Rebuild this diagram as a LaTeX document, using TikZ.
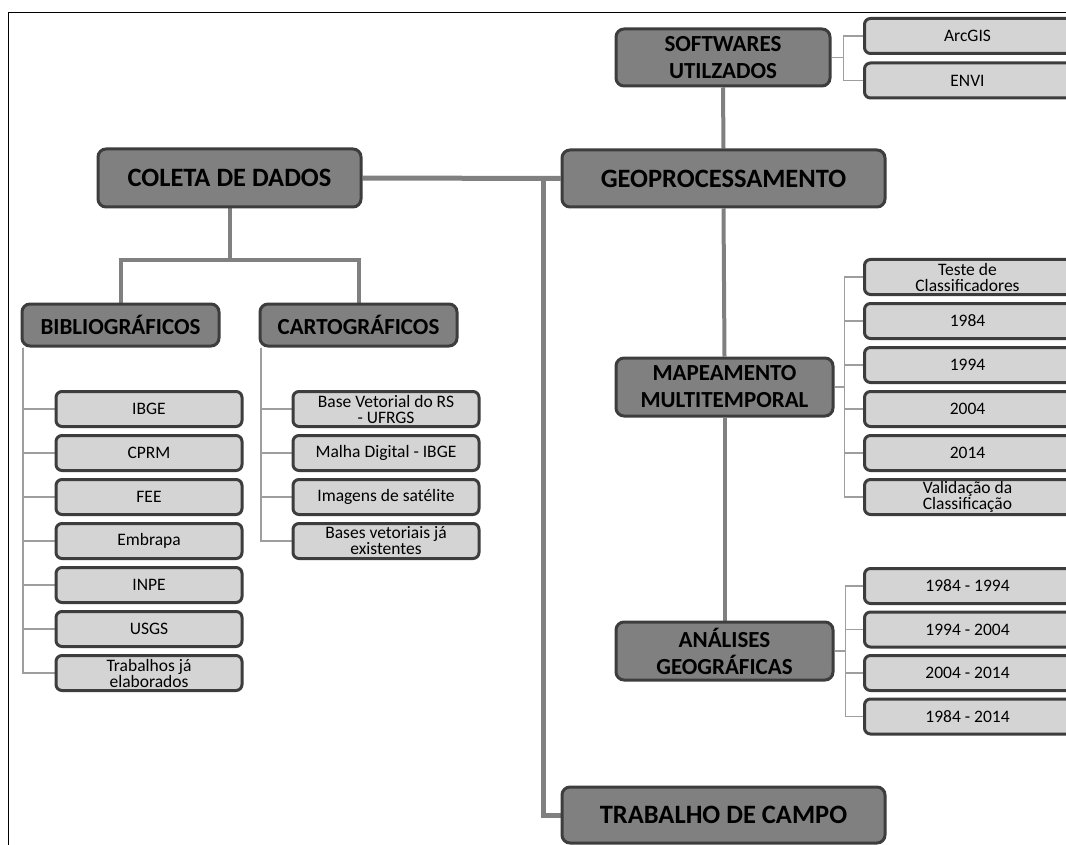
\documentclass[tikz,border=0pt]{standalone}
\usepackage{fontspec}
\setmainfont{Carlito}
\definecolor{darkfill}{gray}{0.50}
\definecolor{lightfill}{gray}{0.83}
\definecolor{boxedge}{gray}{0.24}
\definecolor{linegray}{gray}{0.50}
\definecolor{thingray}{gray}{0.62}
\pgfdeclarelayer{bg}
\pgfdeclarelayer{paper}
\pgfsetlayers{paper,bg,main}
\newcommand\rtxt[1]{\parbox{206pt}{\centering #1}\hspace*{14pt}}
\begin{document}
\begin{tikzpicture}[x=1pt,y=-1pt,
  dbox/.style={draw=boxedge, fill=darkfill, line width=3pt, rounded corners=8pt,
    align=center, inner sep=0pt, font=\fontsize{23}{27}\selectfont\bfseries},
  bigbox/.style={dbox, font=\fontsize{26.5}{28}\selectfont\bfseries},
  lbox/.style={draw=boxedge, fill=lightfill, line width=3pt, rounded corners=6pt,
    align=center, inner sep=0pt, minimum height=35pt, minimum width=186pt,
    font=\fontsize{17.5}{16}\selectfont},
  rbox/.style={draw=boxedge, fill=lightfill, line width=3pt, rounded corners=6pt,
    inner sep=0pt, minimum height=35pt, anchor=west,
    font=\fontsize{17.5}{16}\selectfont},
  mainline/.style={draw=linegray, line width=5pt},
  thickline/.style={draw=linegray, line width=4pt},
  thinline/.style={draw=thingray, line width=1.8pt}
]
\useasboundingbox (0,0) rectangle (1066,845);
\begin{pgfonlayer}{paper}
\fill[white] (0,0) rectangle (1066,845);
\end{pgfonlayer}
\draw[black, line width=1.2pt] (8.5,845) -- (8.5,12.5) -- (1066,12.5);

% main nodes
\node[bigbox, minimum width=263pt, minimum height=58pt] (coleta) at (229.5,178) {COLETA DE DADOS};
\node[bigbox, minimum width=323pt, minimum height=57pt] (geo) at (723.5,178.5) {GEOPROCESSAMENTO};
\node[dbox, minimum width=214pt, minimum height=57pt] (soft) at (723,57.5) {SOFTWARES\\UTILZADOS};
\node[dbox, minimum width=197pt, minimum height=42pt] (bib) at (120.5,325) {BIBLIOGRÁFICOS};
\node[dbox, minimum width=197pt, minimum height=42pt] (carto) at (358.5,325) {CARTOGRÁFICOS};
\node[dbox, minimum width=217pt, minimum height=58pt] (map) at (724.5,387) {MAPEAMENTO\\MULTITEMPORAL};
\node[dbox, minimum width=217pt, minimum height=58pt] (ana) at (724.5,651) {ANÁLISES\\GEOGRÁFICAS};
\node[bigbox, minimum width=323pt, minimum height=56pt] (campo) at (723.5,815) {TRABALHO DE CAMPO};

% software children
\node[rbox] (arc) at (863,36) {\rtxt{ArcGIS}};
\node[rbox] (envi) at (863,80.5) {\rtxt{ENVI}};

% bibliographic children
\foreach \t [count=\i] in {IBGE,CPRM,FEE,Embrapa,INPE,USGS,{Trabalhos já\\elaborados}}
  \node[lbox] (b\i) at (149,{365+44*\i}) {\t};

% cartographic children
\foreach \t [count=\i] in {{Base Vetorial do RS\\- UFRGS},{Malha Digital - IBGE},{Imagens de satélite},{Bases vetoriais já\\existentes}}
  \node[lbox] (c\i) at (386,{365+44*\i}) {\t};

% mapping children
\foreach \t [count=\i] in {{Teste de\\Classificadores},1984,1994,2004,2014,{Validação da\\Classificação}}
  \node[rbox] (m\i) at (863,{233+44*\i}) {\rtxt{\t}};

% analysis children
\foreach \t [count=\i] in {1984 - 1994,1994 - 2004,2004 - 2014,1984 - 2014}
  \node[rbox] (a\i) at (863,{542.5+43.5*\i}) {\rtxt{\t}};

\coordinate (j) at (543,178);
\coordinate (cj) at (229.5,260);

\begin{pgfonlayer}{bg}
  \draw[mainline] (coleta.east) -- (geo.west);
  \draw[mainline] (j) |- (campo.west);
  \draw[thickline] (soft.south) -- (geo.north);
  \draw[thickline] (geo.south) -- (map.north);
  \draw[thickline] (map.south) -- (ana.north);
  \draw[thickline] (coleta.south) -- (cj);
  \draw[thickline] (cj) -| (bib.north);
  \draw[thickline] (cj) -| (carto.north);
  % software branch
  \draw[thinline] (soft.east) -- ++(12,0) coordinate (sj);
  \draw[thinline] (sj) |- (arc.west);
  \draw[thinline] (sj) |- (envi.west);
  % bibliographic branch
  \path (bib.south west) ++(2.5,0) coordinate (bj);
  \foreach \i in {1,...,7} \draw[thinline] (bj) |- (b\i.west);
  % cartographic branch
  \path (carto.south west) ++(2.5,0) coordinate (kj);
  \foreach \i in {1,...,4} \draw[thinline] (kj) |- (c\i.west);
  % mapping branch
  \draw[thinline] (map.east) -- ++(10,0) coordinate (mj);
  \foreach \i in {1,...,6} \draw[thinline] (mj) |- (m\i.west);
  % analysis branch
  \draw[thinline] (ana.east) -- ++(11,0) coordinate (aj);
  \foreach \i in {1,...,4} \draw[thinline] (aj) |- (a\i.west);
\end{pgfonlayer}
\end{tikzpicture}
\end{document}
